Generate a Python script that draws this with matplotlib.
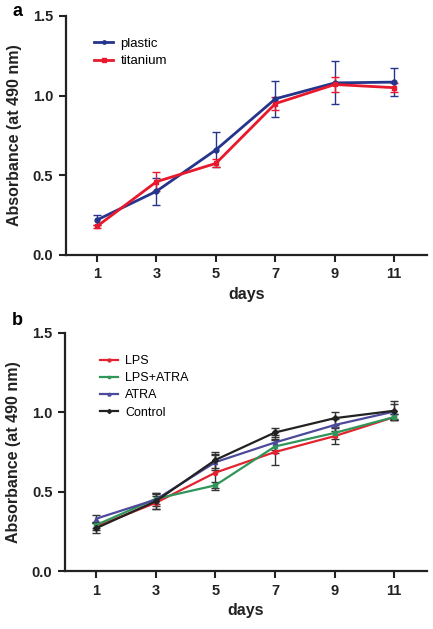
import numpy as np
import matplotlib
matplotlib.use("Agg")
import matplotlib.pyplot as plt

plt.rcParams['font.family'] = ['Liberation Sans', 'DejaVu Sans']

days = [1, 3, 5, 7, 9, 11]

# panel a
plastic = [0.22, 0.40, 0.66, 0.98, 1.08, 1.085]
plastic_err = [0.03, 0.085, 0.11, 0.115, 0.135, 0.09]
titanium = [0.18, 0.46, 0.575, 0.95, 1.07, 1.05]
titanium_err = [0.01, 0.06, 0.025, 0.04, 0.05, 0.03]

# panel b
lps = [0.28, 0.43, 0.62, 0.75, 0.85, 0.97]
lps_err = [0.02, 0.04, 0.11, 0.08, 0.05, 0.02]
lps_atra = [0.29, 0.455, 0.54, 0.785, 0.87, 0.97]
lps_atra_err = [0.02, 0.03, 0.02, 0.04, 0.04, 0.02]
atra = [0.33, 0.45, 0.686, 0.81, 0.92, 1.005]
atra_err = [0.02, 0.04, 0.05, 0.05, 0.04, 0.05]
control = [0.27, 0.44, 0.70, 0.873, 0.963, 1.01]
control_err = [0.03, 0.05, 0.05, 0.03, 0.04, 0.06]

yticks = [0.0, 0.5, 1.0, 1.5]
ytick_labels = ["0.0", "0.5", "1.0", "1.5"]

fig = plt.figure(figsize=(4.33, 6.29), dpi=100)
ax_a = fig.add_axes([0.152, 0.5946, 0.834, 0.38])
ax_b = fig.add_axes([0.150, 0.0922, 0.836, 0.3784])


def style_axis(ax):
    ax.set_xlim(-0.05, 12.1)
    ax.set_ylim(0, 1.5)
    ax.set_xticks(days)
    ax.set_xticklabels([str(d) for d in days])
    ax.set_yticks(yticks)
    ax.set_yticklabels(ytick_labels)
    for s in ['top', 'right']:
        ax.spines[s].set_visible(False)
    for s in ['left', 'bottom']:
        ax.spines[s].set_linewidth(1.6)
        ax.spines[s].set_color('#222222')
    ax.tick_params(direction='out', length=5, width=1.5, labelsize=10.5,
                   colors='#222222', pad=4)
    for lab in ax.get_xticklabels() + ax.get_yticklabels():
        lab.set_fontweight('bold')
    ax.set_xlabel("days", fontsize=11.5, fontweight='bold', color='#222222', labelpad=4)
    ax.set_ylabel("Absorbance (at 490 nm)", fontsize=11.5, fontweight='bold',
                  color='#222222', labelpad=8)


series_a = [
    ("plastic", plastic, plastic_err, '#25358c', 'o'),
    ("titanium", titanium, titanium_err, '#e8192c', 's'),
]
handles, names = [], []
for name, vals, err, col, mk in series_a:
    c = ax_a.errorbar(days, vals, yerr=err, color=col, lw=2.0, marker=mk, ms=3.5,
                      capsize=3, elinewidth=1.0, capthick=1.0)
    handles.append(c[0])
    names.append(name)
style_axis(ax_a)
ax_a.legend(handles, names, loc='upper left', bbox_to_anchor=(0.045, 0.96),
            frameon=False, fontsize=9.5, handlelength=1.45, numpoints=1,
            labelspacing=0.4, handletextpad=0.55, markerscale=0.7)

series_b = [
    ("LPS", lps, lps_err, '#e3232f', 'o'),
    ("LPS+ATRA", lps_atra, lps_atra_err, '#2f9558', 's'),
    ("ATRA", atra, atra_err, '#4d4a9c', '^'),
    ("Control", control, control_err, '#222222', 'D'),
]
handles, names = [], []
for name, vals, err, col, mk in series_b:
    c = ax_b.errorbar(days, vals, yerr=err, color=col, lw=1.6, marker=mk, ms=3,
                      capsize=3, elinewidth=1.0, capthick=1.0, ecolor='#333333')
    handles.append(c[0])
    names.append(name)
style_axis(ax_b)
ax_b.legend(handles, names, loc='upper left', bbox_to_anchor=(0.065, 0.955),
            frameon=False, fontsize=9, handlelength=1.45, numpoints=1,
            labelspacing=0.42, handletextpad=0.6, markerscale=0.7)

fig.text(0.028, 0.982, "a", fontsize=13, fontweight='bold', va='center')
fig.text(0.028, 0.49, "b", fontsize=13, fontweight='bold', va='center')

fig.savefig("out.png", dpi=100)
